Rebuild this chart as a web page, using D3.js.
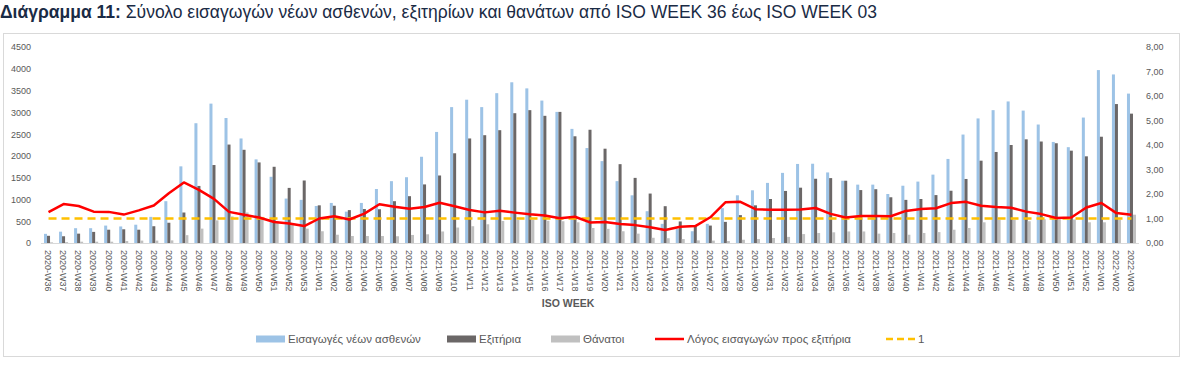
<!DOCTYPE html>
<html>
<head>
<meta charset="utf-8">
<script src="https://cdn.jsdelivr.net/npm/d3@7"></script>
<style>
  body { margin: 0; background: #fff; }
  svg { font-family: "Liberation Sans", Arial, sans-serif; }
</style>
</head>
<body>
<script>
const w = 1183; // width
const h = 367;  // height

// categories (ISO weeks)
const weeks = [
  "2020-W36","2020-W37","2020-W38","2020-W39","2020-W40","2020-W41","2020-W42","2020-W43","2020-W44",
  "2020-W45","2020-W46","2020-W47","2020-W48","2020-W49","2020-W50","2020-W51","2020-W52","2020-W53",
  "2021-W01","2021-W02","2021-W03","2021-W04","2021-W05","2021-W06","2021-W07","2021-W08","2021-W09",
  "2021-W10","2021-W11","2021-W12","2021-W13","2021-W14","2021-W15","2021-W16","2021-W17","2021-W18",
  "2021-W19","2021-W20","2021-W21","2021-W22","2021-W23","2021-W24","2021-W25","2021-W26","2021-W27",
  "2021-W28","2021-W29","2021-W30","2021-W31","2021-W32","2021-W33","2021-W34","2021-W35","2021-W36",
  "2021-W37","2021-W38","2021-W39","2021-W40","2021-W41","2021-W42","2021-W43","2021-W44","2021-W45",
  "2021-W46","2021-W47","2021-W48","2021-W49","2021-W50","2021-W51","2021-W52",
  "2022-W01","2022-W02","2022-W03"
];

// new patient admissions
const admissions = [
  210, 260, 340, 340, 400, 380, 420, 600, 960,
  1760, 2750, 3200, 2870, 2400, 1920, 1520, 1020, 990,
  850, 920, 720, 920, 1240, 1420, 1510, 1980, 2550,
  3120, 3290, 3120, 3440, 3690, 3550, 3270, 3010, 2620,
  2180, 1880, 1420, 1095, 730, 440, 320, 270, 440,
  800, 1095, 1210, 1380, 1610, 1815, 1820, 1620, 1430,
  1340, 1340, 1125, 1315, 1410, 1570, 1930, 2490, 2860,
  3050, 3250, 3040, 2720, 2320, 2200, 2880,
  3970, 3870, 3430
];

// discharges
const discharges = [
  165, 155, 215, 255, 305, 315, 305, 385, 465,
  700, 1310, 1790, 2260, 2140, 1850, 1750, 1265, 1435,
  865, 855, 755, 780, 775, 960, 1075, 1345, 1550,
  2060, 2400, 2475, 2590, 2980, 3050, 2920, 3010, 2450,
  2600, 2165, 1810, 1495, 1135, 845, 495, 385, 400,
  485, 640, 865, 1010, 1195, 1270, 1475, 1490, 1430,
  1215, 1235, 1050, 990, 1010, 1100, 1200, 1470, 1890,
  2090, 2250, 2380, 2330, 2290, 2120, 1990,
  2440, 3190, 2970
];

// deaths
const deaths = [
  15, 20, 30, 30, 30, 45, 55, 55, 60,
  180, 330, 520, 610, 700, 600, 500, 420, 330,
  270, 190, 160, 160, 160, 155, 185, 200, 265,
  355, 385, 430, 505, 530, 535, 510, 500, 475,
  345, 325, 270, 215, 120, 110, 90, 60, 55,
  45, 75, 90, 115, 140, 205, 230, 245, 265,
  265, 215, 230, 190, 230, 250, 305, 345, 475,
  535, 535, 500, 545, 545, 540, 475,
  475, 540, 650
];

// admissions / discharges ratio (right axis)
const ratio = [
  1.26, 1.59, 1.51, 1.28, 1.27, 1.16, 1.33, 1.53, 2.03,
  2.47, 2.17, 1.80, 1.27, 1.15, 1.04, 0.86, 0.80, 0.69,
  1.00, 1.09, 0.96, 1.20, 1.58, 1.48, 1.40, 1.47, 1.64,
  1.50, 1.35, 1.25, 1.32, 1.24, 1.17, 1.12, 1.01, 1.07,
  0.84, 0.86, 0.78, 0.73, 0.64, 0.53, 0.66, 0.69, 1.05,
  1.66, 1.68, 1.38, 1.36, 1.36, 1.37, 1.43, 1.19, 1.04,
  1.10, 1.10, 1.09, 1.31, 1.39, 1.42, 1.63, 1.68, 1.52,
  1.47, 1.44, 1.28, 1.18, 1.02, 1.04, 1.45,
  1.63, 1.22, 1.15
];

const leftTicks = [0, 500, 1000, 1500, 2000, 2500, 3000, 3500, 4000, 4500];
const rightTicks = [0, 1, 2, 3, 4, 5, 6, 7, 8];
const refValue = 1;

const seriesNames = ["Εισαγωγές νέων ασθενών", "Εξιτήρια", "Θάνατοι"];
const seriesColors = ["#9dc3e6", "#6b6767", "#c0c0c0"];
const lineName = "Λόγος εισαγωγών προς εξιτήρια";
const refName = "1";

const svg = d3.select("body")
    .append("svg")
    .attr("width", w)
    .attr("height", h);

// title
const title = svg.append("text")
    .attr("x", 0)
    .attr("y", 18)
    .attr("font-size", 17.5)
    .attr("fill", "#1a2b45");
title.append("tspan").attr("font-weight", "bold").text("Διάγραμμα 11:");
title.append("tspan").text(" Σύνολο εισαγωγών νέων ασθενών, εξιτηρίων και θανάτων από ISO WEEK 36 έως ISO WEEK 03");

// chart frame
svg.append("rect")
    .attr("x", 3.5)
    .attr("y", 33.5)
    .attr("width", 1176)
    .attr("height", 323)
    .attr("fill", "none")
    .attr("stroke", "#d9d9d9");

// scales
const x = d3.scaleBand()
    .domain(weeks)
    .range([41, 1139])
    .paddingInner(0.4)
    .paddingOuter(0.2);

const xs = d3.scaleBand()
    .domain([0, 1, 2])
    .range([0, x.bandwidth()]);

const y = d3.scaleLinear().domain([0, 4500]).range([243, 47]);
const y2 = d3.scaleLinear().domain([0, 8]).range([243, 47]);

// bars
const data = weeks.map((wk, i) => ({ wk, vals: [admissions[i], discharges[i], deaths[i]] }));
const groups = svg.append("g").selectAll("g")
    .data(data)
    .enter()
    .append("g")
    .attr("transform", d => `translate(${x(d.wk)},0)`);

groups.selectAll("rect")
    .data(d => d.vals.map((v, k) => ({ v, k })))
    .enter()
    .append("rect")
    .attr("x", d => xs(d.k))
    .attr("width", xs.bandwidth())
    .attr("y", d => y(d.v))
    .attr("height", d => y(0) - y(d.v))
    .attr("fill", d => seriesColors[d.k]);

// baseline
svg.append("line")
    .attr("x1", 41).attr("x2", 1139)
    .attr("y1", 243.5).attr("y2", 243.5)
    .attr("stroke", "#d9d9d9");

// left axis
const axL = svg.append("g")
    .attr("transform", "translate(31,0)")
    .call(d3.axisLeft(y).tickValues(leftTicks).tickSize(0).tickPadding(0)
        .tickFormat(d3.format("d")));
axL.select(".domain").remove();
axL.selectAll("text").attr("font-size", 9).attr("fill", "#595959").attr("font-family", "Liberation Sans, Arial, sans-serif");

// right axis
const axR = svg.append("g")
    .attr("transform", "translate(1146,0)")
    .call(d3.axisRight(y2).tickValues(rightTicks).tickSize(0).tickPadding(0)
        .tickFormat(d => d3.format(".2f")(d).replace(".", ",")));
axR.select(".domain").remove();
axR.selectAll("text").attr("font-size", 9).attr("fill", "#595959").attr("font-family", "Liberation Sans, Arial, sans-serif");

// x axis labels
const axB = svg.append("g")
    .attr("transform", "translate(0,243)")
    .call(d3.axisBottom(x).tickSize(0).tickPadding(0));
axB.select(".domain").remove();
axB.selectAll("text")
    .attr("font-size", 9)
    .attr("fill", "#595959")
    .attr("font-family", "Liberation Sans, Arial, sans-serif")
    .attr("text-anchor", "start")
    .attr("dy", "0.35em")
    .attr("transform", "translate(0,7) rotate(90)");

// x axis title
svg.append("text")
    .attr("x", 568)
    .attr("y", 307)
    .attr("text-anchor", "middle")
    .attr("font-size", 10.5)
    .attr("font-weight", "bold")
    .attr("fill", "#595959")
    .text("ISO WEEK");

// reference line at 1
const cx = d => x(d) + x.bandwidth() / 2;
svg.append("line")
    .attr("x1", cx(weeks[0]))
    .attr("x2", cx(weeks[weeks.length - 1]))
    .attr("y1", y2(refValue))
    .attr("y2", y2(refValue))
    .attr("stroke", "#ffc000")
    .attr("stroke-width", 2.5)
    .attr("stroke-dasharray", "8,5");

// ratio line
const line = d3.line()
    .x((d, i) => cx(weeks[i]))
    .y(d => y2(d));
svg.append("path")
    .datum(ratio)
    .attr("d", line)
    .attr("fill", "none")
    .attr("stroke", "#ff0000")
    .attr("stroke-width", 2.5)
    .attr("stroke-linejoin", "round");

// legend
const ly = 339;
const legendItems = [
    { name: seriesNames[0], x: 256, type: "rect", color: seriesColors[0] },
    { name: seriesNames[1], x: 447, type: "rect", color: seriesColors[1] },
    { name: seriesNames[2], x: 551, type: "rect", color: seriesColors[2] },
    { name: lineName, x: 655, type: "line", color: "#ff0000" },
    { name: refName, x: 886, type: "dash", color: "#ffc000" }
];
const lg = svg.append("g").selectAll("g")
    .data(legendItems)
    .enter()
    .append("g")
    .attr("transform", d => `translate(${d.x},${ly})`);

lg.filter(d => d.type === "rect")
    .append("rect")
    .attr("x", 0).attr("y", -3.5)
    .attr("width", 29).attr("height", 7)
    .attr("fill", d => d.color);

lg.filter(d => d.type !== "rect")
    .append("line")
    .attr("x1", 0).attr("x2", 29)
    .attr("y1", 0).attr("y2", 0)
    .attr("stroke", d => d.color)
    .attr("stroke-width", 2.5)
    .attr("stroke-dasharray", d => d.type === "dash" ? "7,4" : null);

lg.append("text")
    .attr("x", 32)
    .attr("y", 0)
    .attr("dy", "0.35em")
    .attr("font-size", 11.5)
    .attr("fill", "#595959")
    .text(d => d.name);
</script>
</body>
</html>
